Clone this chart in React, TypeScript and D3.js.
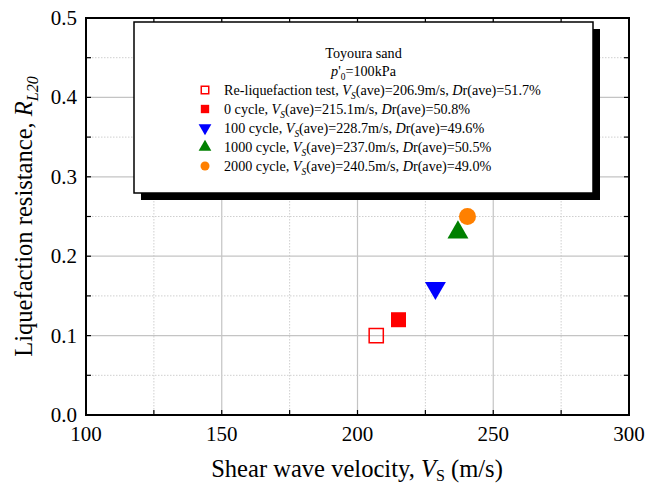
import React from "react";
import * as d3 from "d3";

// Test series: shear wave velocity (m/s) against liquefaction resistance R_L20
const seriesNames = ["Re-liquefaction test", "0 cycle", "100 cycle", "1000 cycle", "2000 cycle"];
const vsValues = [206.9, 215.1, 228.7, 237.0, 240.5];
const rl20Values = [0.1, 0.12, 0.16, 0.23, 0.25];
const drAverages = [51.7, 50.8, 49.6, 50.5, 49.0];
const xTicks = [100, 150, 200, 250, 300];
const yTicks = [0.0, 0.1, 0.2, 0.3, 0.4, 0.5];

const W = 645;
const H = 485;
const M = { left: 86, right: 629, top: 18, bottom: 415 };
const serif = "'Liberation Serif', 'Times New Roman', serif";
const narrow = 0.945;

const colors = ["#ff0000", "#ff0000", "#0000ff", "#008000", "#ff8000"];
const filled = [false, true, true, true, true];
const shapes = [d3.symbolSquare, d3.symbolSquare, d3.symbolTriangle, d3.symbolTriangle, d3.symbolCircle];
const rotations = [0, 0, 180, 0, 0];
const plotSizes = [200, 225, 190, 190, 227];
const legendSizes = [56, 70, 70, 70, 64];

function Marker({ i, x, y, size }: { i: number; x: number; y: number; size: number }) {
  const path = d3.symbol().type(shapes[i]).size(size)() || "";
  return (
    <path
      d={path}
      transform={`translate(${x},${y}) rotate(${rotations[i]})`}
      fill={filled[i] ? colors[i] : "none"}
      stroke={colors[i]}
      strokeWidth={filled[i] ? 0 : 1.5}
    />
  );
}

export default function App() {
  const x = d3.scaleLinear().domain([100, 300]).range([M.left, M.right]);
  const y = d3.scaleLinear().domain([0, 0.5]).range([M.bottom, M.top]);
  const xMinor = d3.range(100, 300.1, 25);
  const yMinor = d3.range(0, 0.501, 0.05);
  const isMajorX = (v: number) => Math.abs(v % 50) < 1e-6;
  const isMajorY = (v: number) => Math.abs(Math.round(v * 20) % 2) === 0;

  const lg = { x: 134, y: 22, w: 459, h: 171, shadow: 7 };
  const rowY0 = 95;
  const rowStep = 19;

  return (
    <div style={{ position: "absolute", left: 0, top: 0 }}>
      <svg width={W} height={H} style={{ display: "block", background: "#fff" }} fontFamily={serif}>
        {/* grid */}
        {xMinor
          .filter((v) => v > 100 && v < 300)
          .map((v) => (
            <line
              key={"gx" + v}
              x1={x(v)}
              x2={x(v)}
              y1={M.top}
              y2={M.bottom}
              stroke={isMajorX(v) ? "#c4c4c4" : "#cfcfcf"}
              strokeWidth={isMajorX(v) ? 1.2 : 1}
              strokeDasharray={isMajorX(v) ? undefined : "1.5,1.5"}
            />
          ))}
        {yMinor
          .filter((v) => v > 0.001 && v < 0.499)
          .map((v) => (
            <line
              key={"gy" + v}
              x1={M.left}
              x2={M.right}
              y1={y(v)}
              y2={y(v)}
              stroke={isMajorY(v) ? "#c4c4c4" : "#cfcfcf"}
              strokeWidth={isMajorY(v) ? 1.2 : 1}
              strokeDasharray={isMajorY(v) ? undefined : "1.5,1.5"}
            />
          ))}

        {/* inward ticks on all four sides */}
        {xMinor.map((v) => (
          <g key={"tx" + v} stroke="#000" strokeWidth={1.2}>
            <line x1={x(v)} x2={x(v)} y1={M.bottom} y2={M.bottom - 5} />
            <line x1={x(v)} x2={x(v)} y1={M.top} y2={M.top + 5} />
          </g>
        ))}
        {yMinor.map((v) => (
          <g key={"ty" + v} stroke="#000" strokeWidth={1.2}>
            <line x1={M.left} x2={M.left + 5} y1={y(v)} y2={y(v)} />
            <line x1={M.right} x2={M.right - 5} y1={y(v)} y2={y(v)} />
          </g>
        ))}

        {/* frame */}
        <rect
          x={M.left}
          y={M.top}
          width={M.right - M.left}
          height={M.bottom - M.top}
          fill="none"
          stroke="#000"
          strokeWidth={2}
        />

        {/* tick labels */}
        {xTicks.map((v) => (
          <text key={"xl" + v} x={x(v)} y={440.5} textAnchor="middle" fontSize={21}>
            {v}
          </text>
        ))}
        {yTicks.map((v) => (
          <text key={"yl" + v} x={77} y={y(v) + 7} textAnchor="end" fontSize={21}>
            {v.toFixed(1)}
          </text>
        ))}

        {/* axis titles */}
        <text transform={`translate(357,476.5) scale(${narrow},1)`} textAnchor="middle" fontSize={26}>
          Shear wave velocity, <tspan fontStyle="italic">V</tspan>
          <tspan fontSize={17} dy={4.5}>S</tspan>
          <tspan dy={-4.5}> (m/s)</tspan>
        </text>
        <text
          transform={`translate(32,${(M.top + M.bottom) / 2}) rotate(-90) scale(${narrow},1)`}
          textAnchor="middle"
          fontSize={26}
        >
          Liquefaction resistance, <tspan fontStyle="italic">R</tspan>
          <tspan fontStyle="italic" fontSize={17} dy={6}>L20</tspan>
        </text>

        {/* data points */}
        {vsValues.map((v, i) => (
          <Marker key={"m" + i} i={i} x={x(v)} y={y(rl20Values[i])} size={plotSizes[i]} />
        ))}

        {/* legend */}
        <rect x={lg.x + lg.shadow} y={lg.y + lg.shadow} width={lg.w} height={lg.h} fill="#000" />
        <rect x={lg.x} y={lg.y} width={lg.w} height={lg.h} fill="#fff" stroke="#000" strokeWidth={1.5} />
        <text transform={`translate(${lg.x + lg.w / 2},58) scale(${narrow},1)`} textAnchor="middle" fontSize={15}>
          Toyoura sand
        </text>
        <text transform={`translate(${lg.x + lg.w / 2},76) scale(${narrow},1)`} textAnchor="middle" fontSize={15}>
          <tspan fontStyle="italic">p</tspan>
          <tspan>'</tspan>
          <tspan fontSize={10} dy={4}>0</tspan>
          <tspan dy={-4}>=100kPa</tspan>
        </text>
        {seriesNames.map((name, i) => {
          const ry = rowY0 + i * rowStep;
          return (
            <g key={"lg" + i}>
              <Marker i={i} x={205} y={ry - 5} size={legendSizes[i]} />
              <text transform={`translate(224,${ry}) scale(${narrow},1)`} fontSize={15}>
                {name}, <tspan fontStyle="italic">V</tspan>
                <tspan fontStyle="italic" fontSize={10} dy={4}>S</tspan>
                <tspan dy={-4}>(ave)={vsValues[i].toFixed(1)}m/s, </tspan>
                <tspan fontStyle="italic">D</tspan>
                <tspan>r(ave)={drAverages[i].toFixed(1)}%</tspan>
              </text>
            </g>
          );
        })}
      </svg>
    </div>
  );
}
